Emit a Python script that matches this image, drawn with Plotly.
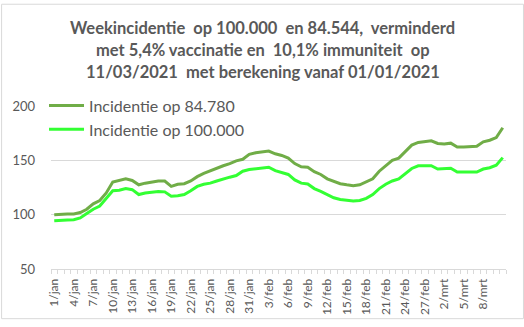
import plotly.graph_objects as go

# 70 daily categories 1/jan .. 11/mrt
months = [("jan", 31), ("feb", 28), ("mrt", 11)]
dates = [f"{d}/{m}" for m, n in months for d in range(1, n + 1)]

inc_84780 = [100, 100.5, 100.7, 100.7, 102, 105, 110, 113, 120, 130,
             131.5, 133, 131.5, 127.5, 129, 130.3, 131, 131, 126, 128,
             128.5, 131, 135, 138, 140.5, 143, 145, 147, 149.5, 151,
             155.5, 157, 157.5, 158.5, 156, 154.5, 152, 147, 144, 143.6,
             139.5, 137, 133, 130.5, 128.5, 127.5, 126.7, 127.5, 130, 133,
             140, 145, 150, 152, 158, 164, 166.5, 167.5, 168, 165.5,
             165, 165.8, 162.3, 162.3, 162.5, 163, 167, 168.5, 171, 180]

inc_100000 = [94.4, 95, 95.2, 95.3, 97, 101, 105, 108, 115, 122,
              122.5, 124, 123, 118.5, 120, 121, 121.4, 121, 117, 117.5,
              118.5, 122, 126, 128, 129, 131, 133, 134.5, 136, 140,
              141.5, 142, 142.5, 143.6, 140.5, 139, 137, 132, 129, 128.2,
              124, 121.5, 118.5, 115.5, 114, 113, 112.5, 113, 115, 118.5,
              124, 128, 131, 133, 137.5, 142.5, 145, 145.2, 145, 142,
              142.5, 142.7, 139.2, 139.2, 139.2, 139.2, 142, 143.2, 145.5, 152.5]

title_lines = ["Weekincidentie  op 100.000  en 84.544,  verminderd",
               "met 5,4% vaccinatie en  10,1% immuniteit  op",
               "11/03/2021  met berekening vanaf 01/01/2021"]

x = list(range(len(dates)))
tickvals = x[:67:3]          # 1/jan .. 8/mrt
ticktext = dates[:67:3]

GRAY = "#595959"
GRID = "#d9d9d9"
FONT = "Lato, Carlito, Calibri, sans-serif"

fig = go.Figure()
fig.add_trace(go.Scatter(x=x, y=inc_84780, mode="lines", name="Incidentie op 84.780",
                         line=dict(color="#70AD47", width=3)))
fig.add_trace(go.Scatter(x=x, y=inc_100000, mode="lines", name="Incidentie op 100.000",
                         line=dict(color="#33FF33", width=3)))

W, H = 524, 327
L, R, T, B = 50, 18, 106, 52
pw, ph = W - L - R, H - T - B

def px2paper_y(py):
    return (H - B - py) / ph

def px2paper_x(px):
    return (px - L) / pw

for i, (line, py) in enumerate(zip(title_lines, [25, 48, 71])):
    fig.add_annotation(text=f"<b>{line}</b>", xref="paper", yref="paper",
                       x=px2paper_x(W / 2), y=px2paper_y(py), xanchor="center", yanchor="middle",
                       showarrow=False, font=dict(family=FONT, size=16.5, color=GRAY))

fig.add_shape(type="rect", xref="paper", yref="paper",
              x0=px2paper_x(0.5), x1=px2paper_x(W - 0.5),
              y0=px2paper_y(H - 0.5), y1=px2paper_y(0.5),
              line=dict(color=GRID, width=1), layer="below")

fig.update_layout(
    width=W, height=H,
    margin=dict(l=L, r=R, t=T, b=B, pad=0),
    paper_bgcolor="white", plot_bgcolor="white",
    showlegend=True,
    legend=dict(x=px2paper_x(43), y=px2paper_y(88), xanchor="left", yanchor="top",
                bgcolor="rgba(0,0,0,0)", font=dict(family=FONT, size=16, color=GRAY),
                itemwidth=35, tracegroupgap=0),
    font=dict(family=FONT, color=GRAY),
)

fig.update_xaxes(
    range=[-0.5, len(dates) - 0.5],
    tickmode="array", tickvals=tickvals, ticktext=ticktext, tickangle=-90,
    tickfont=dict(family=FONT, size=12, color=GRAY),
    showgrid=False, zeroline=False,
    showline=True, linecolor=GRID, linewidth=1,
    ticks="", ticklabelstandoff=4,
    minor=dict(tick0=-0.5, dtick=1, ticks="outside", ticklen=4, tickcolor=GRID, showgrid=False),
)
fig.update_yaxes(
    range=[50, 200], tickvals=[50, 100, 150, 200],
    tickfont=dict(family=FONT, size=13, color=GRAY),
    showgrid=True, gridcolor=GRID, gridwidth=1, zeroline=False,
    showline=False, ticks="", ticklabelstandoff=15,
)

fig.write_html("out.html")
